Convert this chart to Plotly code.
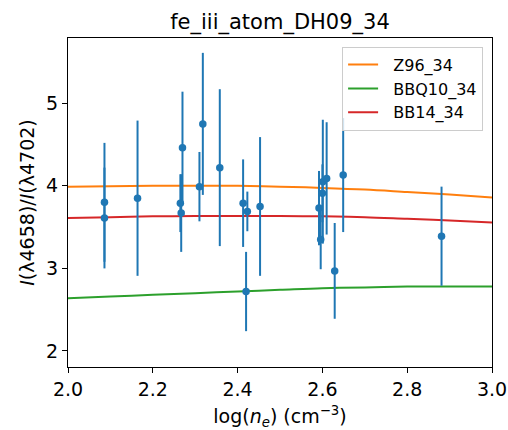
import plotly.graph_objects as go

# observed data
log_ne = [2.086, 2.086, 2.164, 2.270, 2.265, 2.267, 2.310, 2.318, 2.358, 2.413, 2.423,
          2.420, 2.453, 2.592, 2.596, 2.601, 2.600, 2.610, 2.629, 2.649, 2.881]
ratio = [3.80, 3.61, 3.85, 4.46, 3.79, 3.67, 3.99, 4.75, 4.22, 3.79, 3.69,
         2.72, 3.75, 3.73, 3.35, 4.05, 3.91, 4.09, 2.97, 4.13, 3.39]
ratio_err = [0.72, 0.61, 0.94, 0.68, 0.35, 0.47, 0.42, 0.86, 0.95, 0.53, 0.24,
             0.48, 0.84, 0.45, 0.36, 0.75, 0.35, 0.68, 0.58, 0.69, 0.60]

# model curves
grid = [2.0, 2.1, 2.2, 2.3, 2.4, 2.5, 2.6, 2.7, 2.8, 2.9, 3.0]
z96 = [3.99, 3.995, 4.0, 4.0, 4.0, 3.99, 3.975, 3.955, 3.925, 3.895, 3.86]
bbq10 = [2.64, 2.66, 2.68, 2.70, 2.72, 2.74, 2.76, 2.77, 2.78, 2.78, 2.78]
bb14 = [3.61, 3.62, 3.63, 3.635, 3.635, 3.635, 3.63, 3.62, 3.60, 3.58, 3.555]

series_names = ["Z96_34", "BBQ10_34", "BB14_34"]
series_vals = [z96, bbq10, bb14]
series_cols = ["#ff7f0e", "#2ca02c", "#d62728"]

fig = go.Figure()
for i, (nm, vals, col) in enumerate(zip(series_names, series_vals, series_cols)):
    fig.add_trace(go.Scatter(x=grid, y=vals, mode="lines",
                             name="\u00a0\u00a0" + nm,
                             line=dict(color=col, width=2, shape="spline"),
                             legendgroup=f"g{i}"))

fig.add_trace(go.Scatter(
    x=log_ne, y=ratio, mode="markers", showlegend=False,
    marker=dict(color="#1f77b4", size=7.5),
    error_y=dict(type="data", array=ratio_err, visible=True,
                 color="#1f77b4", thickness=2, width=0),
))

font = "DejaVu Sans, Arial, sans-serif"
fig.update_layout(
    width=508, height=430,
    margin=dict(l=68, r=16, t=38, b=63, autoexpand=False),
    paper_bgcolor="white", plot_bgcolor="white",
    font=dict(family=font, color="black", size=19),
    title=dict(text="fe_iii_atom_DH09_34", x=0.5, xref="paper",
               y=1 - 22 / 430, yref="container", yanchor="middle",
               xanchor="center", font=dict(size=21), automargin=False),
    showlegend=True,
    legend=dict(x=0.979, y=0.9735, xanchor="right", yanchor="top",
                bgcolor="rgba(255,255,255,0.8)", bordercolor="#cccccc",
                borderwidth=1, font=dict(size=16), tracegroupgap=0,
                itemwidth=30),
)
fig.update_xaxes(range=[2.0, 3.0], tickvals=[2.0, 2.2, 2.4, 2.6, 2.8, 3.0],
                 ticktext=["2.0", "2.2", "2.4", "2.6", "2.8", "3.0"],
                 showgrid=False, zeroline=False, showline=True, mirror=True,
                 linecolor="black", linewidth=1, ticks="outside", ticklen=5,
                 tickcolor="black", automargin=False,
                 title=dict(text="log(<i>n<sub>e</sub></i>) (cm<sup>−3</sup>)",
                            font=dict(size=19), standoff=13))
fig.update_yaxes(range=[1.806, 5.79], tickvals=[2, 3, 4, 5],
                 showgrid=False, zeroline=False, showline=True, mirror=True,
                 linecolor="black", linewidth=1, ticks="outside", ticklen=5,
                 tickcolor="black", automargin=False,
                 title=dict(text="<i>I</i>(λ4658)/<i>I</i>(λ4702)",
                            font=dict(size=19), standoff=6))

fig.write_html(
    "out.html",
    config={"displayModeBar": False},
    post_script="document.body.style.margin='0';document.body.style.overflow='hidden';",
)
